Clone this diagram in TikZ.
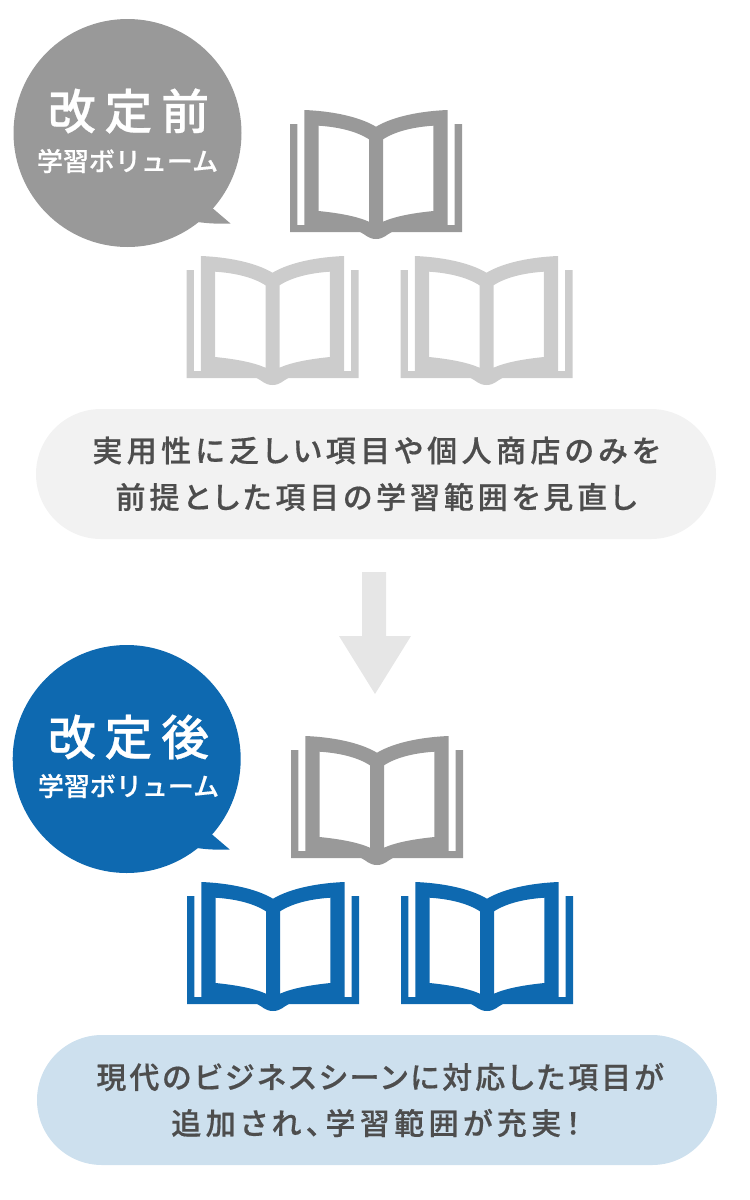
\documentclass[tikz,border=0pt]{standalone}
\usepackage{fontspec}
\setmainfont{Noto Sans CJK JP}[BoldFont={Noto Sans CJK JP Bold}]
\newfontfamily\pilltext{Noto Sans CJK JP Medium}[LetterSpace=13,RawFeature=+palt,FakeBold=0.5]
\newfontfamily\pilltextwide{Noto Sans CJK JP Medium}[LetterSpace=14.7,RawFeature=+palt,FakeBold=0.5]
\newfontfamily\pilltextnarrow{Noto Sans CJK JP Medium}[LetterSpace=10,RawFeature=+palt,FakeBold=0.5]
\newfontfamily\bigtext{Noto Sans CJK JP Medium}[LetterSpace=18,FakeBold=0.5]
\newfontfamily\smalltext{Noto Sans CJK JP Medium}[FakeBold=0.4]
\definecolor{grayA}{HTML}{999999}
\definecolor{grayB}{HTML}{CCCCCC}
\definecolor{blueA}{HTML}{0E69B0}
\definecolor{pillA}{HTML}{F2F2F2}
\definecolor{pillB}{HTML}{CDE0EE}
\definecolor{arrowc}{HTML}{E6E6E6}
\definecolor{ink}{HTML}{4D4D4D}
\tikzset{
  x=1pt,y=-1pt,
  pill/.style={fill=#1,rounded corners=65pt},
  pilllabel/.style={text=ink,font=#1\fontsize{30}{30}\selectfont,inner sep=0pt,anchor=center},
  pilllabel/.default=\pilltext,
  bigl/.style={text=white,font=\bigtext\fontsize{48}{48}\selectfont,inner sep=0pt,anchor=center},
  smalll/.style={text=white,font=\smalltext\fontsize{26}{26}\selectfont,inner sep=0pt,anchor=center},
  pics/bookicon/.style={code={
    \fill[#1,even odd rule]
      (0,14) -- (7.3,14) -- (7.3,115) -- (14.3,115) -- (14.3,0)
      .. controls (40,1) and (68,6) .. (86,16.7)
      .. controls (104,6) and (132,1) .. (157.7,0)
      -- (157.7,115) -- (164.7,115) -- (164.7,14) -- (172,14) -- (172,122) -- (102,122)
      .. controls (97,124) and (94,129) .. (86,129)
      .. controls (78,129) and (75,124) .. (70,122)
      -- (0,122) -- cycle
      (28.7,15.7) .. controls (48,17) and (66,21) .. (79,29.3) -- (79,111.7)
      .. controls (66,106) and (48,103) .. (28.7,101) -- cycle
      (143.3,15.7) .. controls (124,17) and (106,21) .. (93,29.3) -- (93,111.7)
      .. controls (106,106) and (124,103) .. (143.3,101) -- cycle;
  }},
  pics/speechbubble/.style={code={
    \fill[#1] (114,114) circle[radius=114];
    \fill[#1] (150,150) -- (200,190) -- (217,204.5) .. controls (205,205) and (195,204.5) .. (184,203) -- cycle;
  }}
}
\begin{document}
\begin{tikzpicture}
\useasboundingbox (0,0) rectangle (750,1200);
\pic at (290,110) {bookicon=grayA};
\pic at (186.5,256) {bookicon=grayB};
\pic at (400.5,256) {bookicon=grayB};
\pic at (291,736) {bookicon=grayA};
\pic at (187,882) {bookicon=blueA};
\pic at (401,882) {bookicon=blueA};
\pic at (13.5,19) {speechbubble=grayA};
\pic at (12.7,645) {speechbubble=blueA};
\node[bigl] (t1) at (128.5,111) {改定前};
\node[smalll] (s1) at (127.5,161) {学習ボリューム};
\node[bigl] (t2) at (128.5,737) {改定後};
\node[smalll] (s2) at (128.5,786) {学習ボリューム};
\fill[pill=pillA] (36,409) rectangle (716,539);
\node[pilllabel=\pilltextwide] (p1a) at (376,450.5) {実用性に乏しい項目や個人商店のみを};
\node[pilllabel] (p1b) at (376,497) {前提とした項目の学習範囲を見直し};
\fill[arrowc] (362,572) -- (386,572) -- (386,636) -- (411,636) -- (375,694) -- (339,636) -- (362,636) -- cycle;
\fill[pill=pillB] (37,1035) rectangle (717,1165);
\node[pilllabel=\pilltextnarrow] (p2a) at (380,1077) {現代のビジネスシーンに対応した項目が};
\node[pilllabel=\pilltextwide] (p2b) at (376,1123) {追加され、学習範囲が充実！};
\end{tikzpicture}
\end{document}
